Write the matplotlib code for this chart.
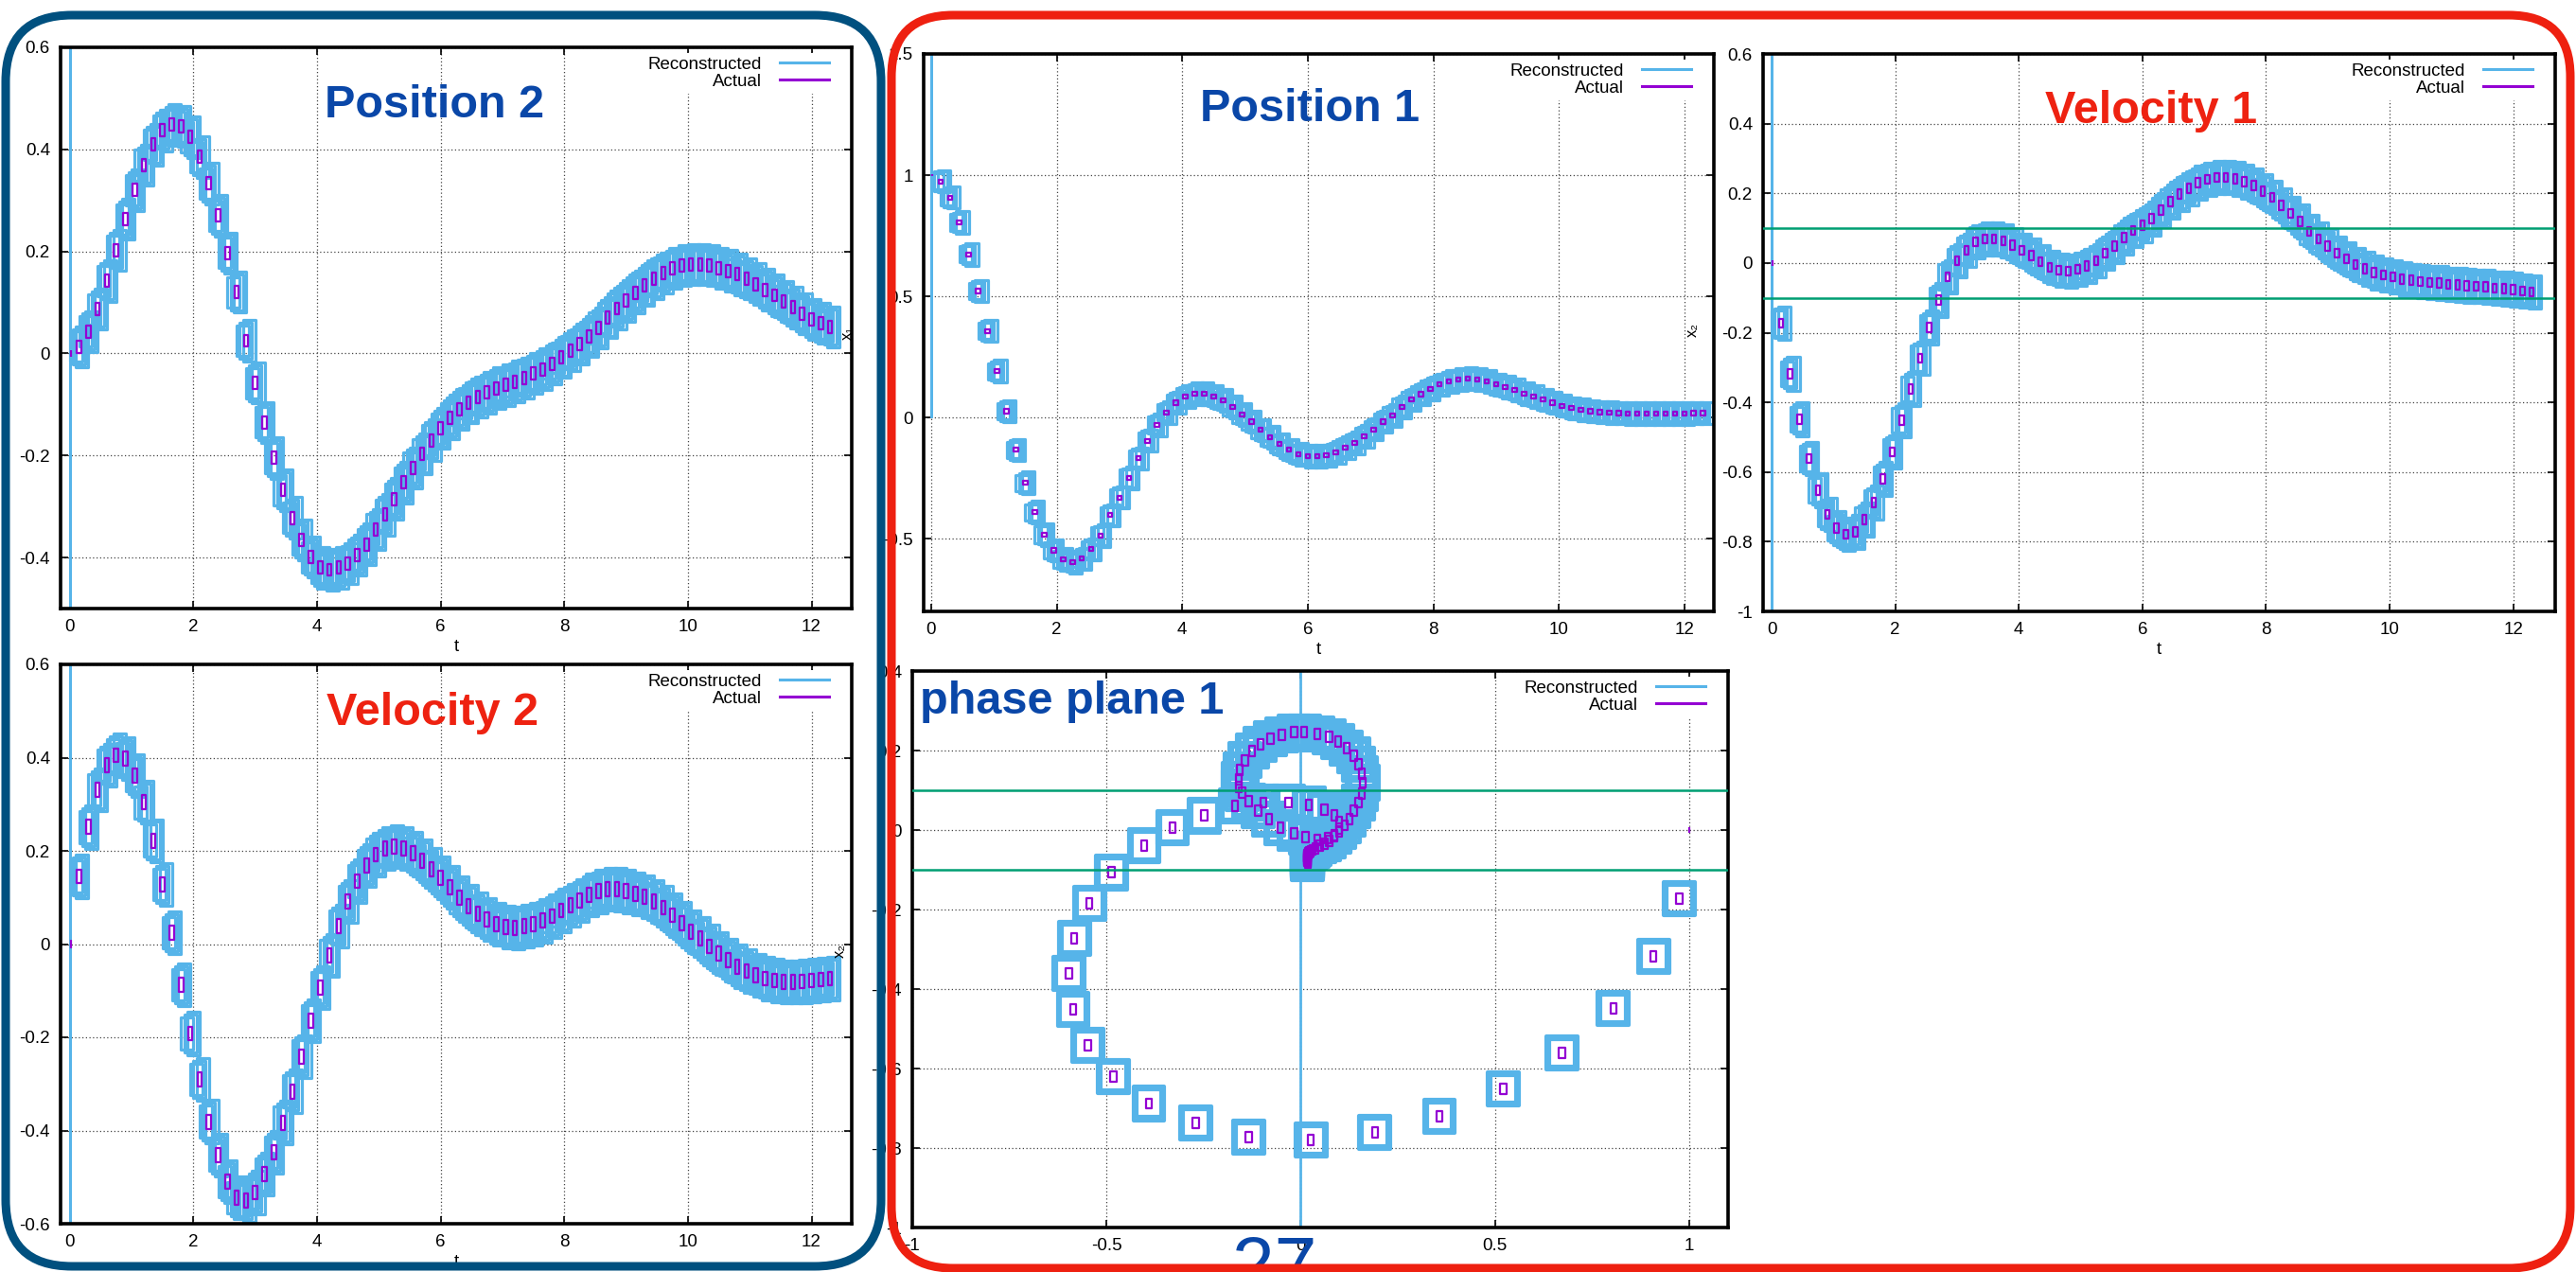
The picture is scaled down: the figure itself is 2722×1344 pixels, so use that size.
import numpy as np
import matplotlib.pyplot as plt
from matplotlib.patches import Rectangle, FancyBboxPatch
from matplotlib.collections import PatchCollection
from matplotlib.lines import Line2D

plt.rcParams["font.family"] = ["Liberation Sans", "DejaVu Sans"]

# ------------------------
# Data
# ------------------------

t = [0.15, 0.30, 0.45, 0.60, 0.75, 0.90, 1.05, 1.20, 1.35, 1.50,
     1.65, 1.80, 1.95, 2.10, 2.25, 2.40, 2.55, 2.70, 2.85, 3.00,
     3.15, 3.30, 3.45, 3.60, 3.75, 3.90, 4.05, 4.20, 4.35, 4.50,
     4.65, 4.80, 4.95, 5.10, 5.25, 5.40, 5.55, 5.70, 5.85, 6.00,
     6.15, 6.30, 6.45, 6.60, 6.75, 6.90, 7.05, 7.20, 7.35, 7.50,
     7.65, 7.80, 7.95, 8.10, 8.25, 8.40, 8.55, 8.70, 8.85, 9.00,
     9.15, 9.30, 9.45, 9.60, 9.75, 9.90, 10.05, 10.20, 10.35, 10.50,
     10.65, 10.80, 10.95, 11.10, 11.25, 11.40, 11.55, 11.70, 11.85, 12.00,
     12.15, 12.30]

pos1 = [0.974, 0.908, 0.805, 0.673, 0.522, 0.357, 0.191, 0.026, -0.134, -0.270,
        -0.391, -0.483, -0.548, -0.586, -0.597, -0.583, -0.544, -0.487, -0.403, -0.330,
        -0.249, -0.169, -0.096, -0.031, 0.021, 0.061, 0.087, 0.099, 0.099, 0.087,
        0.070, 0.043, 0.012, -0.017, -0.052, -0.082, -0.110, -0.134, -0.151, -0.160,
        -0.160, -0.157, -0.144, -0.125, -0.104, -0.078, -0.049, -0.017, 0.009, 0.043,
        0.073, 0.096, 0.118, 0.136, 0.148, 0.157, 0.160, 0.157, 0.148, 0.136,
        0.125, 0.113, 0.099, 0.087, 0.073, 0.061, 0.049, 0.038, 0.031, 0.026,
        0.022, 0.020, 0.018, 0.017, 0.017, 0.017, 0.017, 0.017, 0.017, 0.017,
        0.018, 0.018]

vel1 = [-0.173, -0.318, -0.448, -0.561, -0.652, -0.721, -0.761, -0.779, -0.772, -0.737,
        -0.688, -0.620, -0.542, -0.452, -0.361, -0.273, -0.185, -0.107, -0.040, 0.006,
        0.036, 0.061, 0.069, 0.069, 0.064, 0.052, 0.036, 0.021, 0.004, -0.012,
        -0.021, -0.024, -0.018, -0.008, 0.006, 0.028, 0.048, 0.073, 0.093, 0.109,
        0.127, 0.152, 0.176, 0.198, 0.215, 0.230, 0.240, 0.246, 0.246, 0.242,
        0.234, 0.222, 0.206, 0.188, 0.166, 0.142, 0.119, 0.091, 0.069, 0.048,
        0.028, 0.012, -0.004, -0.016, -0.027, -0.034, -0.040, -0.046, -0.050, -0.053,
        -0.056, -0.058, -0.061, -0.063, -0.065, -0.067, -0.069, -0.072, -0.074, -0.077,
        -0.080, -0.083]

pos2 = [0.013, 0.043, 0.087, 0.142, 0.202, 0.263, 0.320, 0.369, 0.409, 0.437,
        0.448, 0.445, 0.424, 0.385, 0.333, 0.270, 0.197, 0.120, 0.025, -0.058,
        -0.135, -0.205, -0.268, -0.322, -0.365, -0.399, -0.420, -0.424, -0.420, -0.412,
        -0.395, -0.374, -0.345, -0.316, -0.285, -0.253, -0.224, -0.197, -0.170, -0.147,
        -0.127, -0.110, -0.097, -0.085, -0.077, -0.068, -0.062, -0.055, -0.048, -0.039,
        -0.031, -0.020, -0.008, 0.005, 0.018, 0.033, 0.050, 0.070, 0.088, 0.103,
        0.119, 0.133, 0.147, 0.158, 0.167, 0.172, 0.174, 0.174, 0.172, 0.167,
        0.162, 0.155, 0.146, 0.136, 0.125, 0.114, 0.102, 0.090, 0.078, 0.067,
        0.059, 0.052]

vel2 = [0.145, 0.251, 0.331, 0.384, 0.405, 0.398, 0.362, 0.304, 0.222, 0.128,
        0.024, -0.087, -0.192, -0.290, -0.381, -0.453, -0.510, -0.544, -0.550, -0.533,
        -0.494, -0.447, -0.383, -0.316, -0.241, -0.164, -0.093, -0.025, 0.038, 0.091,
        0.135, 0.169, 0.192, 0.205, 0.209, 0.205, 0.195, 0.179, 0.161, 0.142,
        0.122, 0.100, 0.081, 0.065, 0.053, 0.042, 0.036, 0.035, 0.038, 0.043,
        0.050, 0.060, 0.072, 0.083, 0.094, 0.105, 0.113, 0.118, 0.117, 0.113,
        0.108, 0.101, 0.091, 0.078, 0.062, 0.045, 0.027, 0.012, -0.005, -0.021,
        -0.035, -0.048, -0.058, -0.067, -0.074, -0.078, -0.081, -0.081, -0.080, -0.078,
        -0.076, -0.074]

# initial state at t = 0 and the spread of the first reconstruction box
t0 = 0.0
init = {"pos1": 1.0, "vel1": 0.0, "pos2": 0.0, "vel2": 0.0}
init_spread = 1.0

# threshold band drawn on velocity 1
vel1_band = [-0.1, 0.1]

legend_labels = ["Reconstructed", "Actual"]
time_ticks = [0, 2, 4, 6, 8, 10, 12]
pos1_ticks = [-0.5, 0, 0.5, 1, 1.5]
vel1_ticks = [-1, -0.8, -0.6, -0.4, -0.2, 0, 0.2, 0.4, 0.6]
pos2_ticks = [-0.4, -0.2, 0, 0.2, 0.4, 0.6]
vel2_ticks = [-0.6, -0.4, -0.2, 0, 0.2, 0.4, 0.6]
phase_xticks = [-1, -0.5, 0, 0.5, 1]
phase_yticks = [-1, -0.8, -0.6, -0.4, -0.2, 0, 0.2, 0.4]

# ------------------------
# Style
# ------------------------

W, H, DPI = 2722, 1344, 100
RECON = "#56b4e9"
ACTUAL = "#9400d3"
GREEN = "#009e73"
TITLE_BLUE = "#0a47a8"
TITLE_RED = "#ee2211"
FRAME_BLUE = "#00507f"
FRAME_RED = "#ee2010"

# box half sizes (time, value) for the reconstruction and the actual state
recon_ht = 0.1
recon_half = {"pos1": 0.04, "vel1": 0.042, "pos2": 0.035, "vel2": 0.04}
act_ht = 0.035
act_half = {"pos1": 0.008, "vel1": 0.013, "pos2": 0.012, "vel2": 0.015}
# overlaid outlines: (time shift, height scale)
recon_copies = [(-0.05, 0.85), (0.0, 1.0), (0.05, 1.15)]

fig = plt.figure(figsize=(W / DPI, H / DPI), dpi=DPI)
fig.patch.set_facecolor("white")


def draw_boxes(ax, xs, ys, hx, hy, color, lw, z):
    xs = np.asarray(xs, float)
    ys = np.asarray(ys, float)
    hx = np.broadcast_to(hx, xs.shape)
    hy = np.broadcast_to(hy, xs.shape)
    rects = [Rectangle((x - a, y - b), 2 * a, 2 * b) for x, y, a, b in zip(xs, ys, hx, hy)]
    pc = PatchCollection(rects, facecolor="none", edgecolor=color, linewidth=lw, zorder=z)
    ax.add_collection(pc)


def make_panel(box, xlim, ylim, xticks, yticks, xlabel="t"):
    x0, y0, x1, y1 = box
    ax = fig.add_axes([x0 / W, 1 - y1 / H, (x1 - x0) / W, (y1 - y0) / H])
    ax.set_xticks(xticks)
    ax.set_xticklabels([f"{v:g}" for v in xticks])
    ax.set_yticks(yticks)
    ax.set_yticklabels([f"{v:g}" for v in yticks])
    ax.set_xlim(*xlim)
    ax.set_ylim(*ylim)
    ax.tick_params(direction="in", length=6, width=1.2, top=True, right=True,
                   labelsize=13.5, pad=8)
    ax.grid(True, color="#444444", linestyle=(0, (1, 2)), linewidth=0.9)
    ax.set_axisbelow(True)
    for s in ax.spines.values():
        s.set_linewidth(2.6)
    if xlabel:
        ax.set_xlabel(xlabel, fontsize=13.5, labelpad=3)
    handles = [Line2D([], [], color=RECON, lw=2.2), Line2D([], [], color=ACTUAL, lw=2.2)]
    ax.legend(handles=handles, labels=legend_labels, loc="upper right",
              bbox_to_anchor=(1 - 20 / (x1 - x0), 1 - 6 / (y1 - y0)),
              borderaxespad=0, markerfirst=False, frameon=True, fancybox=False,
              facecolor="white", edgecolor="none", framealpha=1,
              borderpad=0.2, handlelength=2.8, handletextpad=1.0,
              labelspacing=0.05, fontsize=13.5)
    return ax


def time_panel(box, key, values, xlim, ylim, yticks):
    ax = make_panel(box, xlim, ylim, time_ticks, yticks)
    for dt, sc in recon_copies:
        draw_boxes(ax, np.asarray(t) + dt, values, recon_ht, recon_half[key] * sc,
                   RECON, 2.3, 2)
    # first reconstruction box (t = 0) is a tall sliver
    draw_boxes(ax, [t0], [init[key]], 0.0, init_spread, RECON, 2.0, 2)
    draw_boxes(ax, t, values, act_ht, act_half[key], ACTUAL, 1.6, 3)
    # initial actual state is a degenerate box
    draw_boxes(ax, [t0 + 0.02], [init[key]], 0.0, act_half[key] * 0.6, ACTUAL, 1.6, 3)
    return ax


# ------------------------
# Panels
# ------------------------

ax_p2 = time_panel((64, 50, 900, 643), "pos2", pos2, (-0.15, 12.65), (-0.5, 0.6), pos2_ticks)
ax_v2 = time_panel((64, 702, 900, 1293), "vel2", vel2, (-0.15, 12.65), (-0.6, 0.6), vel2_ticks)
ax_p1 = time_panel((976, 57, 1811, 646), "pos1", pos1, (-0.12, 12.47), (-0.8, 1.5), pos1_ticks)
ax_v1 = time_panel((1863, 57, 2700, 646), "vel1", vel1, (-0.14, 12.68), (-1.0, 0.6), vel1_ticks)
for b in vel1_band:
    ax_v1.axhline(b, color=GREEN, lw=1.8, zorder=4)

ax_ph = make_panel((964, 709, 1826, 1297), (-1.0, 1.1), (-1.0, 0.4),
                   phase_xticks, phase_yticks, xlabel=None)
for sc in [1.0, 0.82]:
    draw_boxes(ax_ph, pos1, vel1, recon_half["pos1"] * sc, recon_half["vel1"] * sc,
               RECON, 3.0, 2)
draw_boxes(ax_ph, [init["pos1"]], [init["vel1"]], init_spread, init_spread, RECON, 2.0, 2)
draw_boxes(ax_ph, pos1, vel1, act_half["pos1"], act_half["vel1"], ACTUAL, 1.6, 3)
draw_boxes(ax_ph, [init["pos1"]], [init["vel1"]], 0.0, act_half["vel1"] * 0.6, ACTUAL, 1.6, 3)
for b in vel1_band:
    ax_ph.axhline(b, color=GREEN, lw=1.8, zorder=4)

# ------------------------
# Slide decoration (pixel coordinates)
# ------------------------

ov = fig.add_axes([0, 0, 1, 1])
ov.set_xlim(0, W)
ov.set_ylim(H, 0)
ov.axis("off")

title_kw = dict(fontsize=35, fontweight="bold", ha="center", va="center")
ov.text(459, 112, "Position 2", color=TITLE_BLUE, **title_kw)
ov.text(457, 754, "Velocity 2", color=TITLE_RED, **title_kw)
ov.text(1384, 116, "Position 1", color=TITLE_BLUE, **title_kw)
ov.text(2273, 118, "Velocity 1", color=TITLE_RED, **title_kw)
ov.text(972, 742, "phase plane 1", color=TITLE_BLUE, fontsize=35, fontweight="bold",
        ha="left", va="center")

# stray axis labels of the pasted gnuplot windows
lab_kw = dict(fontsize=12, rotation=90, ha="center", va="center")
ov.text(895, 352, "x₁", **lab_kw)
ov.text(887, 1004, "x₂", **lab_kw)
ov.text(1788, 348, "x₂", **lab_kw)

# slide number
ov.text(1347, 1364, "27", color=TITLE_BLUE, fontsize=58, ha="center", va="baseline")

ov.add_patch(FancyBboxPatch((6, 16), 925, 1322, boxstyle="round,pad=0,rounding_size=70",
                            fill=False, edgecolor=FRAME_BLUE, lw=6.5, zorder=10))
ov.add_patch(FancyBboxPatch((942, 16), 1774, 1324, boxstyle="round,pad=0,rounding_size=65",
                            fill=False, edgecolor=FRAME_RED, lw=6.5, zorder=10))

fig.savefig("out.png", dpi=DPI)
